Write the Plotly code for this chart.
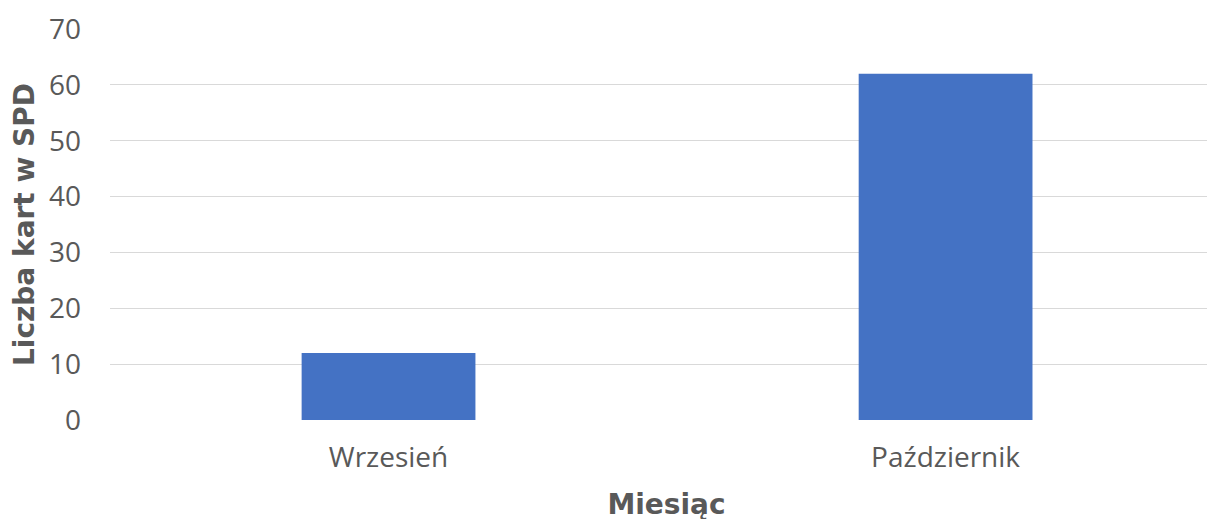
import plotly.graph_objects as go

months = ["Wrzesień", "Październik"]
cards = [12, 62]
y_ticks = [0, 10, 20, 30, 40, 50, 60, 70]

tick_font = "'Open Sans', sans-serif"
title_font = "'DejaVu Sans', sans-serif"

fig = go.Figure(
    go.Bar(
        x=months,
        y=cards,
        marker=dict(color="#4472C4", line=dict(width=0)),
        width=0.312,
    )
)

fig.update_layout(
    width=1215,
    height=519,
    margin=dict(l=102, r=0, t=21, b=107, autoexpand=False),
    paper_bgcolor="white",
    plot_bgcolor="white",
    showlegend=False,
    font=dict(family=tick_font, color="#595959", size=28),
    xaxis=dict(
        range=[-0.5, 1.498],
        automargin=False,
        showgrid=False,
        zeroline=False,
        showline=False,
        ticks="",
        ticklabelstandoff=18,
        tickfont=dict(family=tick_font, size=28, color="#595959"),
        title=dict(text="<b>Miesiąc</b>",
                   font=dict(family=title_font, size=28, color="#595959"),
                   standoff=20),
    ),
    yaxis=dict(
        range=[0, 70],
        automargin=False,
        tickvals=y_ticks,
        showgrid=True,
        gridcolor="#D9D9D9",
        gridwidth=1.3,
        zeroline=False,
        showline=False,
        ticks="",
        ticklabelstandoff=28,
        tickfont=dict(family=tick_font, size=28, color="#595959"),
        title=dict(text="<b>Liczba kart w SPD</b>",
                   font=dict(family=title_font, size=28, color="#595959"),
                   standoff=19),
    ),
)

fig.write_html("out.html")
